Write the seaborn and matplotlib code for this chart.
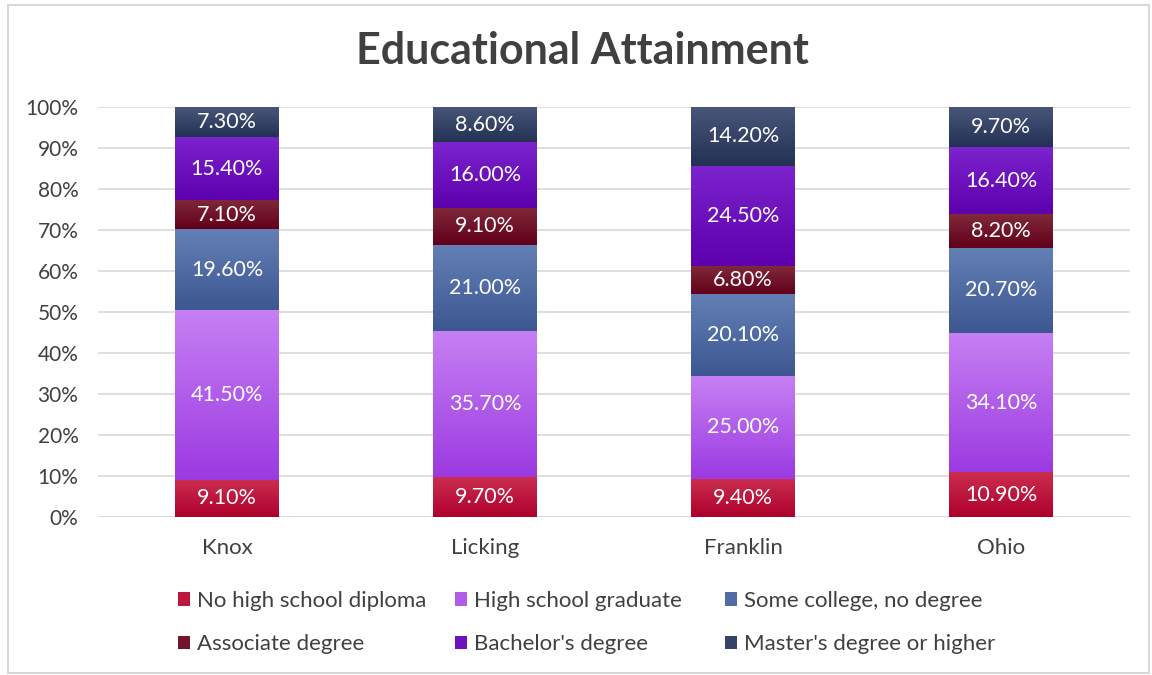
import matplotlib
matplotlib.use("Agg")
import matplotlib.pyplot as plt
import matplotlib.colors as mcolors
from matplotlib.patches import Patch, Rectangle
import numpy as np
import pandas as pd
import seaborn as sns

categories = ["Knox", "Licking", "Franklin", "Ohio"]
series_names = ["No high school diploma", "High school graduate", "Some college, no degree",
                "Associate degree", "Bachelor's degree", "Master's degree or higher"]
no_hs = [9.1, 9.7, 9.4, 10.9]
hs_grad = [41.5, 35.7, 25.0, 34.1]
some_college = [19.6, 21.0, 20.1, 20.7]
associate = [7.1, 9.1, 6.8, 8.2]
bachelor = [15.4, 16.0, 24.5, 16.4]
master = [7.3, 8.6, 14.2, 9.7]
series_values = [no_hs, hs_grad, some_college, associate, bachelor, master]
yticks = [0, 10, 20, 30, 40, 50, 60, 70, 80, 90, 100]

color_pairs = [("#CB2E4F", "#AE002C"), ("#C680F3", "#9C3AE1"), ("#6380B6", "#3D5791"),
               ("#80293A", "#620019"), ("#7C24CD", "#5D00AD"), ("#48567A", "#233155")]

def mid(c1, c2):
    a = np.array(mcolors.to_rgb(c1)); b = np.array(mcolors.to_rgb(c2))
    return tuple((a + b) / 2)

sns.set_theme(style="white")
plt.rcParams["font.family"] = ["Lato", "DejaVu Sans"]
text_col = "#404040"

fig = plt.figure(figsize=(11.52, 6.75), dpi=100)
ax = fig.add_axes([0.085, 0.234, 0.896, 0.607])

bottom = np.zeros(len(categories))
containers = []
for name, vals, cp in zip(series_names, series_values, color_pairs):
    df = pd.DataFrame({"cat": categories, "val": vals})
    sns.barplot(data=df, x="cat", y="val", ax=ax, color=mid(*cp), width=0.4,
                bottom=bottom.copy(), order=categories, errorbar=None, zorder=2,
                linewidth=0, saturation=1)
    cont = ax.containers[-1]
    containers.append((cont, vals, cp))
    bottom = bottom + np.array(vals)

# gradient fill
for cont, vals, cp in containers:
    cmap = mcolors.LinearSegmentedColormap.from_list("g", [cp[1], cp[0]])
    grad = np.linspace(0, 1, 128).reshape(-1, 1)
    for p in cont.patches:
        x0, y0, w, h = p.get_x(), p.get_y(), p.get_width(), p.get_height()
        ax.imshow(grad, cmap=cmap, extent=[x0, x0 + w, y0, y0 + h], origin="lower",
                  aspect="auto", zorder=2.5, interpolation="bilinear")
    ax.bar_label(cont, labels=[f"{v:.2f}%" for v in vals], label_type="center",
                 color="white", fontsize=15.5, zorder=4)

ax.set_xlim(-0.5, len(categories) - 0.5)
ax.set_ylim(0, 100)
ax.set_yticks(yticks)
ax.set_yticklabels([f"{t}%" for t in yticks], fontsize=15, color=text_col)
ax.tick_params(axis="x", labelsize=16, colors=text_col, pad=15, length=0)
ax.tick_params(axis="y", length=0, pad=14)
ax.set_xlabel("")
ax.set_ylabel("")
ax.yaxis.grid(True, color="#D9D9D9", linewidth=1.2, zorder=0)
ax.set_axisbelow(True)
for s in ax.spines.values():
    s.set_visible(False)
ax.axhline(0, color="#D9D9D9", linewidth=1.2, zorder=1)

fig.text(0.506, 0.925, "Educational Attainment", ha="center", va="center",
         fontsize=31, fontweight="bold", color=text_col)

handles = [Patch(facecolor=mid(*cp), edgecolor="none") for cp in color_pairs]
col_x = [178 / 1152, 455 / 1152, 725 / 1152]
for i, x in enumerate(col_x):
    idx = [i, i + 3]
    leg = fig.legend([handles[j] for j in idx], [series_names[j] for j in idx],
                     loc="upper left", bbox_to_anchor=(x, 1 - 591 / 675), ncol=1,
                     frameon=False, fontsize=16, handlelength=0.55, handleheight=0.55,
                     handletextpad=0.3, labelspacing=1.05, borderpad=0, borderaxespad=0)
    for t in leg.get_texts():
        t.set_color(text_col)

fig.patches.append(Rectangle((0.007, 0.003), 0.99, 0.99, transform=fig.transFigure,
                             fill=False, edgecolor="#D9D9D9", linewidth=1.5))

fig.savefig("out.png", dpi=100)
